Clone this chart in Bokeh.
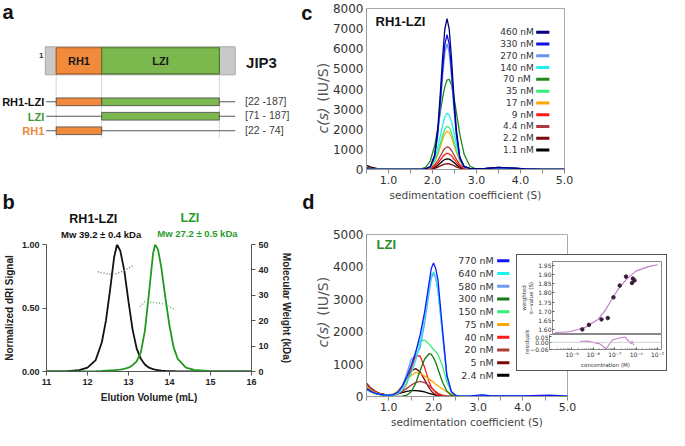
import numpy as np
from bokeh.plotting import figure
from bokeh.models import (Range1d, LinearAxis, FixedTicker, NumeralTickFormatter, Label,
                          Span, CustomJSTickFormatter)
from bokeh.layouts import row, column
from bokeh.embed import file_html
from bokeh.resources import INLINE

# ---------------- data ----------------
# panel a: schematic of the JIP3 N-terminus (residue numbers as drawn)
protein_span = [11, 203]
domain_names = ["RH1", "LZI"]
domain_start = [22, 68]
domain_end = [68, 187]
construct_names = ["RH1-LZI", "LZI", "RH1"]
construct_parts = [["RH1", "LZI"], ["LZI"], ["RH1"]]
construct_ranges = ["[22 -187]", "[71 - 187]", "[22 - 74]"]

# panel b: SEC-MALS
elution_ml = [11.0, 11.5, 11.8, 12.0, 12.2, 12.35, 12.45, 12.55, 12.65, 12.72, 12.8, 12.9, 13.0,
              13.1, 13.2, 13.3, 13.4, 13.5, 13.6, 13.65, 13.72, 13.8, 13.9, 14.0, 14.1, 14.2,
              14.4, 14.6, 15.0, 15.5, 16.0]
dri_rh1lzi = [0, 0.002, 0.01, 0.03, 0.09, 0.23, 0.40, 0.64, 0.90, 1.0, 0.95, 0.79, 0.55,
              0.33, 0.18, 0.10, 0.055, 0.03, 0.018, 0.014, 0.01, 0.007, 0.004, 0.003, 0.002, 0.001,
              0, 0, 0, 0, 0]
dri_lzi = [0, 0, 0, 0, 0.002, 0.004, 0.006, 0.008, 0.01, 0.012, 0.015, 0.02, 0.03,
           0.05, 0.08, 0.15, 0.32, 0.62, 0.93, 1.0, 0.96, 0.82, 0.58, 0.36, 0.19, 0.10,
           0.03, 0.012, 0.003, 0.001, 0]
mw_rh1lzi_ml = [12.25, 12.4, 12.55, 12.7, 12.85, 13.0, 13.1]
mw_rh1lzi_kda = [39.3, 38.7, 38.3, 38.5, 39.4, 40.7, 41.6]
mw_lzi_ml = [13.28, 13.4, 13.5, 13.6, 13.7, 13.8, 13.9, 14.0, 14.13]
mw_lzi_kda = [25.6, 27.4, 27.4, 27.2, 27.0, 26.8, 26.4, 25.4, 24.4]

# panel c: c(s) of RH1-LZI
s_c = [0.5, 0.6, 0.75, 1.0, 1.5, 1.75, 1.85, 1.95, 2.05, 2.12, 2.18, 2.23, 2.28, 2.33, 2.38,
       2.43, 2.48, 2.54, 2.62, 2.72, 2.85, 3.0, 3.2, 3.5, 3.7, 3.9, 4.1, 4.5, 5.0]
c_460 = [20, 10, 0, 0, 0, 5, 40, 150, 740, 2040, 3860, 5580, 6970, 7500, 6970, 5580, 3860, 2040, 620, 150, 60, 40, 50, 110, 80, 70, 30, 10, 0]
c_330 = [20, 10, 0, 0, 0, 5, 35, 130, 660, 1820, 3440, 4980, 6220, 6700, 6220, 4980, 3440, 1820, 560, 130, 55, 40, 50, 100, 80, 60, 30, 10, 0]
c_270 = [20, 10, 0, 0, 0, 5, 30, 120, 610, 1700, 3210, 4650, 5810, 6250, 5810, 4650, 3210, 1700, 520, 120, 50, 35, 45, 90, 70, 55, 25, 10, 0]
c_140 = [30, 15, 0, 0, 0, 5, 35, 145, 545, 1090, 1700, 2210, 2610, 2795, 2715, 2390, 1905, 1280, 605, 170, 40, 20, 30, 70, 60, 50, 20, 5, 0]
c_70 = [30, 15, 0, 0, 0, 27, 120, 435, 1190, 2025, 2880, 3555, 4120, 4445, 4480, 4210, 3690, 2880, 1755, 750, 160, 15, 20, 50, 40, 60, 20, 5, 0]
c_35 = [40, 20, 5, 0, 0, 4, 26, 110, 417, 836, 1305, 1700, 2005, 2145, 2085, 1835, 1460, 985, 465, 130, 20, 0, 10, 40, 30, 40, 15, 5, 0]
c_17 = [40, 20, 5, 0, 0, 4, 23, 97, 370, 740, 1155, 1500, 1770, 1895, 1840, 1625, 1290, 870, 410, 115, 20, 0, 10, 30, 25, 30, 10, 0, 0]
c_9 = [60, 30, 8, 0, 0, 2, 10, 41, 155, 310, 485, 630, 745, 800, 775, 685, 545, 365, 175, 50, 10, 0, 5, 20, 15, 20, 5, 0, 0]
c_4p4 = [80, 40, 10, 0, 0, 2, 13, 57, 217, 435, 680, 885, 1045, 1120, 1085, 955, 760, 515, 240, 70, 10, 0, 5, 20, 15, 20, 5, 0, 0]
c_2p2 = [100, 50, 15, 2, 0, 1, 3, 15, 56, 113, 176, 229, 270, 290, 281, 248, 197, 133, 63, 17, 3, 0, 0, 10, 5, 10, 0, 0, 0]
c_1p1 = [200, 120, 40, 5, 0, 1, 6, 27, 103, 206, 322, 419, 494, 529, 514, 453, 360, 243, 114, 32, 5, 0, 0, 10, 5, 10, 0, 0, 0]
labels_c = ["460 nM", "330 nM", "270 nM", "140 nM", "70  nM", "35 nM", "17 nM", "9 nM", "4.4 nM", "2.2 nM", "1.1 nM"]
series_c = [c_460, c_330, c_270, c_140, c_70, c_35, c_17, c_9, c_4p4, c_2p2, c_1p1]

# panel d: c(s) of LZI
s_d = [0.5, 0.6, 0.7, 0.8, 0.9, 1.0, 1.1, 1.2, 1.3, 1.4, 1.5, 1.6, 1.7, 1.8, 1.9, 1.95, 2.0,
       2.05, 2.1, 2.2, 2.3, 2.4, 2.5, 2.6, 2.8, 3.0, 3.1, 3.3, 3.7, 4.0, 4.6, 5.0]
d_770 = [250, 160, 100, 65, 50, 45, 60, 130, 320, 600, 950, 1350, 1900, 2600, 3500, 3950, 4120, 3950, 3600, 2100, 650, 150, 30, 10, 10, 40, 50, 15, 20, 20, 40, 10]
d_640 = [250, 160, 100, 65, 50, 45, 50, 90, 200, 420, 720, 1100, 1650, 2450, 3350, 3750, 3850, 3700, 3300, 1950, 620, 150, 30, 10, 10, 30, 40, 10, 15, 15, 30, 10]
d_580 = [250, 160, 100, 65, 50, 45, 55, 110, 300, 700, 1150, 1250, 1500, 2250, 3200, 3650, 3800, 3650, 3250, 1950, 620, 150, 30, 10, 10, 30, 40, 10, 15, 15, 30, 10]
d_300 = [220, 140, 90, 60, 45, 30, 15, 5, 10, 40, 150, 400, 800, 1150, 1320, 1300, 1200, 1050, 850, 450, 160, 40, 10, 0, 0, 0, 0, 0, 0, 0, 0, 0]
d_150 = [230, 150, 95, 62, 48, 45, 60, 130, 280, 550, 950, 1400, 1720, 1740, 1620, 1540, 1450, 1380, 1300, 950, 450, 140, 40, 15, 5, 0, 0, 0, 0, 0, 0, 0]
d_75 = [300, 190, 120, 75, 55, 50, 80, 180, 330, 500, 650, 740, 720, 630, 540, 490, 440, 380, 330, 230, 150, 80, 30, 10, 0, 0, 0, 0, 0, 0, 0, 0]
d_40 = [300, 190, 120, 75, 55, 50, 60, 90, 180, 400, 850, 1250, 1250, 900, 450, 300, 200, 120, 70, 20, 5, 0, 0, 0, 0, 0, 0, 0, 0, 0, 0, 0]
d_20 = [380, 240, 140, 85, 60, 50, 60, 90, 150, 250, 350, 430, 470, 430, 330, 270, 210, 150, 100, 40, 10, 0, 0, 0, 0, 0, 0, 0, 0, 0, 0, 0]
d_5 = [400, 250, 150, 90, 62, 55, 65, 130, 300, 560, 790, 860, 760, 520, 270, 170, 100, 50, 20, 5, 0, 0, 0, 0, 0, 0, 0, 0, 0, 0, 0, 0]
d_2p4 = [400, 250, 150, 90, 62, 55, 60, 80, 120, 160, 180, 180, 170, 140, 100, 80, 60, 40, 25, 10, 0, 0, 0, 0, 0, 0, 0, 0, 0, 0, 0, 0]
labels_d = ["770 nM", "640 nM", "580 nM", "300 nM", "150 nM", "75 nM", "40 nM", "20 nM", "5 nM", "2.4 nM"]
series_d = [d_770, d_640, d_580, d_300, d_150, d_75, d_40, d_20, d_5, d_2p4]

# inset: weighted s-value isotherm
iso_conc_nM = [2.4, 5, 20, 40, 75, 150, 300, 580, 640, 770]
iso_sw = [1.600, 1.625, 1.655, 1.662, 1.776, 1.841, 1.890, 1.855, 1.879, 1.869]
iso_resid = [0.010, 0.012, -0.013, -0.056, 0.020, 0.036, 0.046, -0.013, 0.013, -0.025]
fit_conc_M = [1.2e-10, 5.9e-10, 3.4e-9, 1.4e-8, 3.2e-8, 6.6e-8, 1.3e-7, 3.2e-7, 8.9e-7, 3.6e-6, 1.0e-5]
fit_sw = [1.583, 1.587, 1.612, 1.656, 1.709, 1.770, 1.823, 1.876, 1.920, 1.945, 1.955]

# ---------------- styling / helpers ----------------
AR = "Liberation Sans"
DV = "DejaVu Sans"
PAGE_W, PAGE_H = 669, 430
SX = PAGE_W / 685
SY = PAGE_H / 446
colors_c = ["#000080", "#1010e8", "#6495ed", "#22f0f0", "#1e8a1e", "#33ee77", "#ffa500",
            "#ff1a1a", "#b03a3a", "#7a0a0a", "#000000"]
colors_d = ["#1515ff", "#22f0f0", "#6f9bef", "#157a15", "#33ee77", "#ffa500", "#ff1a1a",
            "#b03a3a", "#7a0a0a", "#000000"]


class Geo:
    def __init__(self, ox, oy, L, T, W, H, xr, yr):
        self.ox, self.oy, self.L, self.T, self.W, self.H = ox, oy, L, T, W, H
        self.xr, self.yr = xr, yr

    def at(self, rx, ry):
        fx = rx * SX - self.ox
        fy = ry * SY - self.oy
        x = self.xr[0] + (fx - self.L) / self.W * (self.xr[1] - self.xr[0])
        y = self.yr[1] - (fy - self.T) / self.H * (self.yr[1] - self.yr[0])
        return x, y


def make_fig(w, h, xr, yr, L, R, T, B, **kw):
    p = figure(width=w, height=h, x_range=xr, y_range=yr, min_border_left=L,
               min_border_right=R, min_border_top=T, min_border_bottom=B,
               toolbar_location=None, output_backend="svg", frame_align=False, **kw)
    p.xgrid.visible = False
    p.ygrid.visible = False
    return p


def lab(p, x, y, text, size, color="#222222", font=AR, style="normal", align="left",
        baseline="middle", angle=0.0):
    p.add_layout(Label(x=x, y=y, text=text, text_font=font, text_font_size=size,
                       text_font_style=style, text_color=color, text_align=align,
                       text_baseline=baseline, angle=angle))


# ---------------- panel a ----------------
RES_PX = 167 / 165
pa = make_fig(298, 164, Range1d(22 - 57 / RES_PX, 22 + 248 / RES_PX), Range1d(170, 0), 0, 0, 0, 0,
              x_axis_location=None, y_axis_location=None)
pa.outline_line_color = None
dom_fill = {"RH1": "#f28a3c", "LZI": "#7bb84e"}
dom_line = {"RH1": "#b45a1c", "LZI": "#4a7a2a"}
dom_s = dict(zip(domain_names, domain_start))
dom_e = dict(zip(domain_names, domain_end))

pa.quad(left=[protein_span[0]], right=[protein_span[1]], top=[48], bottom=[77],
        fill_color="#c9c9c9", line_color="#a8a8a8", line_width=1)
pa.quad(left=domain_start, right=domain_end, top=[49] * 2, bottom=[76] * 2,
        fill_color=[dom_fill[n] for n in domain_names],
        line_color=[dom_line[n] for n in domain_names], line_width=1.2)
for n, s, e in zip(domain_names, domain_start, domain_end):
    lab(pa, (s + e) / 2, 63, n, "11px", "#1a1a1a", style="bold", align="center")
bounds = sorted(set(domain_start + domain_end))
pa.segment(x0=bounds, y0=[77] * len(bounds), x1=bounds, y1=[143] * len(bounds),
           line_color="#9a9a9a", line_dash="1 1", line_width=0.8)
lab(pa, protein_span[0] - 2, 57, "1", "8px", "#333333", style="bold", align="right")
lab(pa, protein_span[1] + 11, 64, "JIP3", "15px", "#1a1a1a", style="bold")

row_y = [105, 120, 135]
name_colors = ["#111111", "#3d9a33", "#f0873a"]
pa.segment(x0=[protein_span[0] + 1] * 3, y0=row_y, x1=[protein_span[1]] * 3, y1=row_y,
           line_color="#555555", line_width=1)
for yy, parts in zip(row_y, construct_parts):
    pa.quad(left=[dom_s[n] for n in parts], right=[dom_e[n] for n in parts],
            top=[yy - 4] * len(parts), bottom=[yy + 4] * len(parts),
            fill_color=[dom_fill[n] for n in parts], line_color="#444444", line_width=0.8)
for yy, name, col, rng in zip(row_y, construct_names, name_colors, construct_ranges):
    lab(pa, protein_span[0] - 1, yy + 0.5, name, "11px", col, style="bold", align="right")
    lab(pa, protein_span[1] + 10, yy - 1, rng, "10.5px", "#404040")

# ---------------- panel b ----------------
pb = make_fig(298, 266, Range1d(11, 16), Range1d(0, 1), 45, 47, 80, 59)
pb.outline_line_color = None
pb.extra_y_ranges = {"mw": Range1d(0, 50)}
pb.add_layout(LinearAxis(y_range_name="mw"), "right")
pb.line(elution_ml, dri_rh1lzi, color="#111111", line_width=1.8)
pb.line(elution_ml, dri_lzi, color="#1f9a1f", line_width=1.8)
pb.line(mw_rh1lzi_ml, mw_rh1lzi_kda, y_range_name="mw", color="#777777", line_dash="1 2", line_width=1.5)
pb.line(mw_lzi_ml, mw_lzi_kda, y_range_name="mw", color="#5fb65f", line_dash="1 2", line_width=1.5)
ax_l, ax_r, ax_b = pb.left[0], pb.right[0], pb.below[0]
ax_b.ticker = FixedTicker(ticks=[11, 12, 13, 14, 15, 16])
ax_l.ticker = FixedTicker(ticks=[0, 0.5, 1.0])
ax_l.formatter = NumeralTickFormatter(format="0.00")
ax_r.ticker = FixedTicker(ticks=[0, 10, 20, 30, 40, 50])
ax_l.axis_label = "Normalized dRI Signal"
ax_r.axis_label = "Molecular Weight (kDa)"
ax_b.axis_label = "Elution Volume (mL)"
for ax in (ax_l, ax_r, ax_b):
    ax.axis_line_color = "#555555"
    ax.major_tick_line_color = "#555555"
    ax.major_tick_out = 4
    ax.major_tick_in = 0
    ax.minor_tick_line_color = None
    ax.major_label_text_font = AR
    ax.major_label_text_font_size = "9px"
    ax.major_label_text_font_style = "bold"
    ax.major_label_text_color = "#222222"
    ax.major_label_standoff = 3
    ax.axis_label_text_font = AR
    ax.axis_label_text_font_size = "10px"
    ax.axis_label_text_font_style = "bold"
    ax.axis_label_text_color = "#222222"
    ax.axis_label_standoff = 4
ax_r.axis_label_standoff = 9


# ---------------- panels c / d ----------------
def style_cs(p):
    p.outline_line_color = "#aaaaaa"
    xa, ya = p.below[0], p.left[0]
    xa.ticker = FixedTicker(ticks=[1, 2, 3, 4, 5], minor_ticks=[0.5, 1.5, 2.5, 3.5, 4.5])
    xa.formatter = NumeralTickFormatter(format="0.0")
    xa.major_tick_out = 4
    xa.major_tick_in = 0
    xa.minor_tick_out = 4
    xa.minor_tick_in = 0
    xa.major_tick_line_color = "#888888"
    xa.minor_tick_line_color = "#888888"
    xa.axis_label = "sedimentation coefficient (S)"
    xa.axis_label_text_font = DV
    xa.axis_label_text_font_size = "10.5px"
    xa.axis_label_text_font_style = "normal"
    xa.axis_label_text_color = "#444444"
    xa.axis_label_standoff = 2
    ya.major_tick_out = 0
    ya.major_tick_in = 0
    ya.minor_tick_line_color = None
    for ax, fs in ((xa, "11px"), (ya, "12px")):
        ax.axis_line_color = "#999999"
        ax.major_label_text_font = DV
        ax.major_label_text_font_size = fs
        ax.major_label_text_color = "#333333"
        ax.major_label_standoff = 2 if ax is xa else 3


pc = make_fig(371, 208, Range1d(0.5, 5.0), Range1d(0, 8000), 68, 105, 8, 39)
gc = Geo(298, 0, 68, 8, 198, 161, (0.5, 5.0), (0, 8000))
style_cs(pc)
pc.left[0].ticker = FixedTicker(ticks=list(range(0, 8001, 1000)))
for ys, col in list(zip(series_c, colors_c))[::-1]:
    pc.line(s_c, ys, color=col, line_width=1.3)
for i, (txt, col) in enumerate(zip(labels_c, colors_c)):
    ry = 33 + 12.2 * i
    xt, yt = gc.at(546, ry)
    x0, _ = gc.at(548.5, ry)
    x1, _ = gc.at(562, ry)
    lab(pc, xt, yt, txt, "9px", "#333333", font=DV, align="right")
    pc.segment(x0=[x0], y0=[yt], x1=[x1], y1=[yt], line_color=col, line_width=3)
lab(pc, *gc.at(384, 22), "RH1-LZI", "13px", "#111111", style="bold")

pd_ = make_fig(371, 222, Range1d(0.5, 5.0), Range1d(0, 5000), 68, 102, 26, 34)
gd = Geo(298, 208, 68, 26, 201, 162, (0.5, 5.0), (0, 5000))
style_cs(pd_)
pd_.left[0].ticker = FixedTicker(ticks=list(range(0, 5001, 1000)))
for ys, col in list(zip(series_d, colors_d))[::-1]:
    pd_.line(s_d, ys, color=col, line_width=1.3)
for i, (txt, col) in enumerate(zip(labels_d, colors_d)):
    ry = 270 + 13.2 * i
    xt, yt = gd.at(505, ry)
    x0, _ = gd.at(508.5, ry)
    x1, _ = gd.at(521, ry)
    lab(pd_, xt, yt, txt, "9.5px", "#333333", font=DV, align="right")
    pd_.segment(x0=[x0], y0=[yt], x1=[x1], y1=[yt], line_color=col, line_width=3)
lab(pd_, *gd.at(385, 253), "LZI", "13px", "#2a8c2a", style="bold")

# ---------------- inset ----------------
iso_conc_M = [c * 1e-9 for c in iso_conc_nM]
cmin, cmax = 10 ** -10.05, 10 ** -4.82
pit = make_fig(149, 79, Range1d(cmin, cmax), Range1d(1.572, 1.973), 32, 5, 6, 0,
               x_axis_type="log", x_axis_location=None)
pib = make_fig(149, 36, pit.x_range, Range1d(-0.062, 0.068), 32, 5, 0, 20, x_axis_type="log")
pit.line(fit_conc_M, fit_sw, color="#c47ccb", line_width=1.2)
pit.scatter(iso_conc_M, iso_sw, size=3.5, color="#3b1d3b")
pib.add_layout(Span(location=0, dimension="width", line_color="#c8c8c8", line_width=0.8))
pib.line(iso_conc_M, iso_resid, color="#c47ccb", line_width=1.1)

pit.left[0].ticker = FixedTicker(ticks=[1.60, 1.65, 1.70, 1.75, 1.80, 1.85, 1.90, 1.95])
pit.left[0].formatter = NumeralTickFormatter(format="0.00")
pit.left[0].axis_label = "weighted\ns\u2212value (S)"
pib.left[0].ticker = FixedTicker(ticks=[-0.06, 0.0, 0.05])
pib.left[0].formatter = CustomJSTickFormatter(
    code="return (tick < 0 ? '\u2212' : '') + Math.abs(tick).toFixed(2);")
xa = pib.below[0]
xa.ticker = FixedTicker(ticks=[1e-9, 1e-8, 1e-7, 1e-6, 1e-5],
                        minor_ticks=[k * 10.0 ** e for e in range(-10, -4) for k in range(2, 10)])
xa.formatter = CustomJSTickFormatter(code="""
const sup = {'-':'\u207b','0':'\u2070','1':'\u00b9','2':'\u00b2','3':'\u00b3','4':'\u2074',
             '5':'\u2075','6':'\u2076','7':'\u2077','8':'\u2078','9':'\u2079'};
const e = String(Math.round(Math.log10(tick)));
return '10' + e.split('').map(c => sup[c]).join('');
""")
xa.axis_label = "concentration (M)"
for p in (pit, pib):
    p.outline_line_color = "#888888"
for ax in (pit.left[0], pib.left[0], xa):
    ax.axis_line_color = None
    ax.major_tick_line_color = "#555555"
    ax.major_tick_in = 2
    ax.major_tick_out = 0
    ax.minor_tick_in = 1
    ax.minor_tick_out = 0
    ax.minor_tick_line_color = "#777777" if ax is xa else None
    ax.major_label_text_font = DV
    ax.major_label_text_font_size = "6px"
    ax.major_label_text_color = "#333333"
    ax.major_label_standoff = 1
    ax.axis_label_text_font = DV
    ax.axis_label_text_font_size = "5.5px"
    ax.axis_label_text_font_style = "normal"
    ax.axis_label_text_color = "#333333"
    ax.axis_label_standoff = 1

inset = column(pit, pib, styles={"border": "1px solid #555555", "background-color": "white"},
               margin=(-176, 0, 0, 218))

# ---------------- transparent text layer (panel letters, titles, y labels) ----------------
ov = make_fig(PAGE_W, PAGE_H, Range1d(0, PAGE_W), Range1d(PAGE_H, 0), 0, 0, 0, 0,
              x_axis_location=None, y_axis_location=None)
ov.outline_line_color = None
ov.background_fill_color = None
ov.border_fill_color = None


def olab(rx, ry, text, size, color="#111111", **kw):
    lab(ov, rx * SX, ry * SY, text, size, color, **kw)


for letter, (rx, ry) in zip(["a", "b", "c", "d"], [(2, 1), (2, 198), (308, 2), (309, 198)]):
    olab(rx, ry, letter, "20px", style="bold", baseline="top")
olab(95, 227, "RH1-LZI", "12.5px", style="bold", align="center")
olab(103, 243, "Mw 39.2 ± 0.4 kDa", "9.5px", style="bold", align="center")
olab(194, 226, "LZI", "12.5px", "#2a9a2a", style="bold", align="center")
olab(203, 242, "Mw 27.2 ± 0.5  kDa", "9.5px", "#2a9a2a", style="bold", align="center")
for split_ref in (111, 333):
    olab(330, split_ref, "c(s)", "14px", "#555555", font=DV, style="italic", align="right",
         angle=np.pi / 2)
    olab(330, split_ref - 6, "(IU/S)", "14px", "#555555", font=DV, align="left", angle=np.pi / 2)
olab(539.5, 354, "residuals", "5.5px", "#333333", font=DV, align="center", angle=np.pi / 2)
ov.margin = (-PAGE_H, 0, 0, 0)

layout = column(row(column(pa, pb), column(pc, pd_, inset)), ov)
open("out.html", "w", encoding="utf-8").write(file_html(layout, INLINE, title="JIP3 figure"))
